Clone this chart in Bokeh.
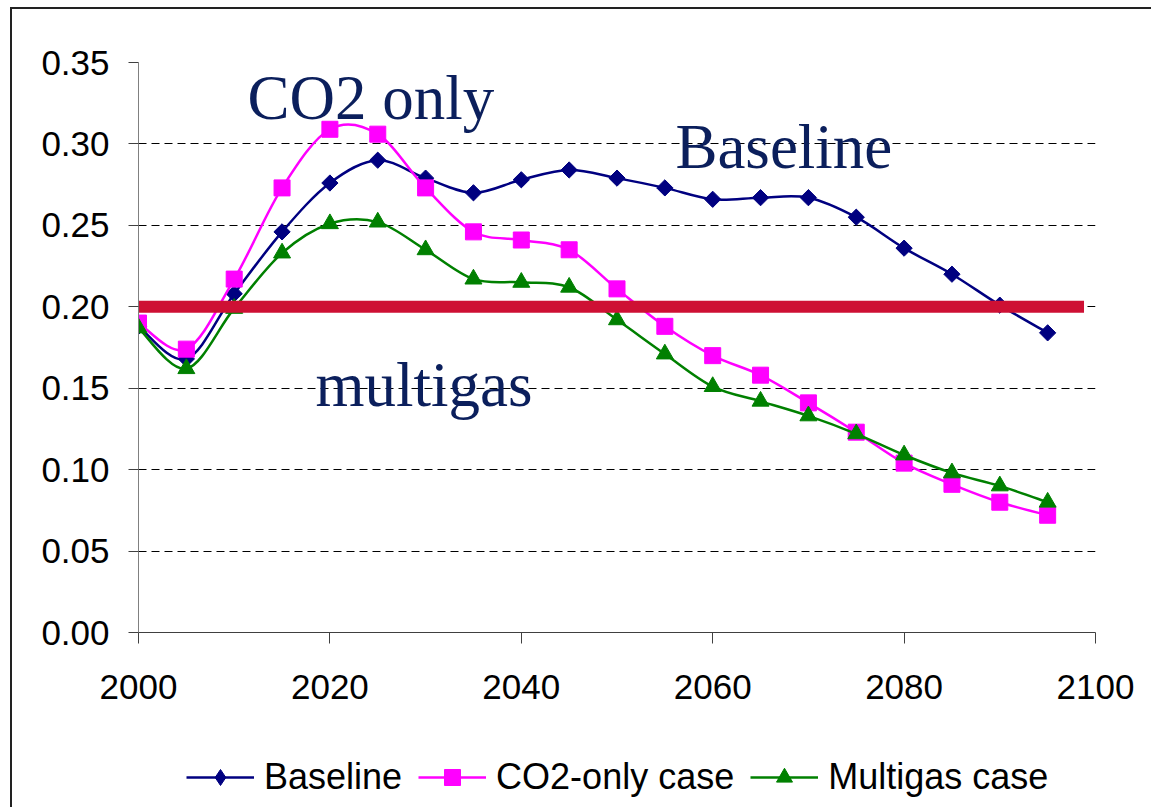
import numpy as np
from bokeh.plotting import figure
from bokeh.layouts import column
from bokeh.models import (ColumnDataSource, FixedTicker, NumeralTickFormatter,
                          Legend, LegendItem, Label, Range1d)
from bokeh.embed import file_html
from bokeh.resources import INLINE

# ---------------- data ----------------
years = [2000, 2005, 2010, 2015, 2020, 2025, 2030, 2035, 2040, 2045,
         2050, 2055, 2060, 2065, 2070, 2075, 2080, 2085, 2090, 2095]
baseline = [0.188, 0.168, 0.208, 0.246, 0.276, 0.290, 0.279, 0.270, 0.278, 0.284,
            0.279, 0.273, 0.266, 0.267, 0.267, 0.255, 0.236, 0.220, 0.201, 0.184]
co2_only = [0.190, 0.174, 0.217, 0.273, 0.309, 0.306, 0.273, 0.246, 0.241, 0.235,
            0.211, 0.188, 0.170, 0.158, 0.141, 0.123, 0.104, 0.091, 0.080, 0.072]
multigas = [0.187, 0.162, 0.199, 0.233, 0.251, 0.252, 0.235, 0.217, 0.215, 0.212,
            0.192, 0.171, 0.151, 0.142, 0.133, 0.122, 0.109, 0.098, 0.090, 0.080]
series_names = ["Baseline", "CO2-only case", "Multigas case"]
x_ticks = [2000, 2020, 2040, 2060, 2080, 2100]
y_ticks = [0.00, 0.05, 0.10, 0.15, 0.20, 0.25, 0.30, 0.35]
target_level = [0.20, 0.20]
target_years = [2000, 2098.8]
annotations = ["CO2 only", "Baseline", "multigas"]

NAVY = "#000080"
MAGENTA = "#FF00FF"
GREEN = "#008000"
RED = "#CE1034"
TEXT_NAVY = "#0B1F5C"
SANS = "Liberation Sans"
SERIF = "Liberation Serif"


def smooth_source(xs, ys):
    """Bezier segments (Excel-like smoothing) built from the data points."""
    x = np.asarray(xs, float)
    y = np.asarray(ys, float)
    xp = np.concatenate([[x[0]], x, [x[-1]]])
    yp = np.concatenate([[y[0]], y, [y[-1]]])
    n = len(x)
    d = dict(x0=[], y0=[], x1=[], y1=[], cx0=[], cy0=[], cx1=[], cy1=[])
    for i in range(n - 1):
        p_prev, p0, p1, p_next = i, i + 1, i + 2, i + 3
        d["x0"].append(xp[p0]); d["y0"].append(yp[p0])
        d["x1"].append(xp[p1]); d["y1"].append(yp[p1])
        d["cx0"].append(xp[p0] + (xp[p1] - xp[p_prev]) / 6.0)
        d["cy0"].append(yp[p0] + (yp[p1] - yp[p_prev]) / 6.0)
        d["cx1"].append(xp[p1] - (xp[p_next] - xp[p0]) / 6.0)
        d["cy1"].append(yp[p1] - (yp[p_next] - yp[p0]) / 6.0)
    return ColumnDataSource(d)


W = 1139
p = figure(width=W, height=713, x_range=(2000, 2100), y_range=(0, 0.35),
           output_backend="svg", toolbar_location=None,
           min_border_left=126, min_border_right=56,
           min_border_top=53, min_border_bottom=90)
p.outline_line_color = None
p.background_fill_color = "white"
p.border_fill_color = "white"

# axes
p.xaxis.ticker = FixedTicker(ticks=x_ticks)
p.yaxis.ticker = FixedTicker(ticks=y_ticks)
p.yaxis.formatter = NumeralTickFormatter(format="0.00")
for ax in (p.xaxis[0], p.yaxis[0]):
    ax.major_label_text_font = SANS
    ax.major_label_text_font_size = "35px"
    ax.major_label_text_color = "black"
    ax.minor_tick_line_color = None
    ax.major_tick_in = 0
p.xaxis.major_tick_out = 11
p.yaxis.major_tick_out = 10
p.xaxis.axis_line_color = "#404040"
p.xaxis.major_tick_line_color = "#404040"
p.yaxis.axis_line_color = "#808080"
p.yaxis.major_tick_line_color = "#404040"
p.xaxis.major_label_standoff = 31
p.yaxis.major_label_standoff = 19

# grid
p.xgrid.grid_line_color = None
p.ygrid.ticker = FixedTicker(ticks=y_ticks[1:])
p.ygrid.grid_line_color = "#000000"
p.ygrid.grid_line_dash = "8 5"
p.ygrid.grid_line_width = 1

# legend strip (its ranges exclude the data, so only the legend shows)
lf = figure(width=W, height=85, x_range=Range1d(0, 1), y_range=Range1d(0, 1),
            output_backend="svg", toolbar_location=None,
            x_axis_type=None, y_axis_type=None,
            min_border_left=0, min_border_right=0, min_border_top=0, min_border_bottom=0)
lf.outline_line_color = None
lf.grid.visible = False
lf.background_fill_color = "white"
lf.border_fill_color = "white"

# series
styles = [
    (baseline, NAVY, "square", 11.5, np.pi / 4, "diamond"),
    (co2_only, MAGENTA, "square", 16, 0.0, "square"),
    (multigas, GREEN, "triangle", 17, 0.0, "triangle"),
]
items = []
for name, (vals, color, marker, size, ang, leg_marker) in zip(series_names, styles):
    src = smooth_source(years, vals)
    p.bezier(x0="x0", y0="y0", x1="x1", y1="y1", cx0="cx0", cy0="cy0",
             cx1="cx1", cy1="cy1", source=src, line_color=color, line_width=2.5)
    p.scatter(x=years, y=vals, marker=marker, size=size, angle=ang,
              fill_color=color, line_color=color)
    c2 = lf.bezier(x0="x0", y0="y0", x1="x1", y1="y1", cx0="cx0", cy0="cy0",
                   cx1="cx1", cy1="cy1", source=src, line_color=color, line_width=2.5)
    s2 = lf.scatter(x=years, y=vals, marker=leg_marker, size=size,
                    fill_color=color, line_color=color)
    items.append(LegendItem(label=name, renderers=[c2, s2]))

# 0.20 reference line
p.line(x=target_years, y=target_level, line_color=RED, line_width=12, line_cap="butt")

# annotations
for txt, (ax_, ay_) in zip(annotations, [(2011.4, 0.3279), (2056.1, 0.2984), (2018.5, 0.1517)]):
    p.add_layout(Label(x=ax_, y=ay_, text=txt, text_font=SERIF, text_font_size="63px",
                       text_color=TEXT_NAVY, text_align="left",
                       text_baseline="alphabetic"))

legend = Legend(items=items, orientation="horizontal", location=(48, 9),
                padding=0, margin=0, spacing=16, label_standoff=10,
                glyph_width=68, glyph_height=40,
                label_text_font=SANS, label_text_font_size="36px",
                label_text_color="black", border_line_color=None,
                background_fill_alpha=0)
lf.add_layout(legend, "center")

layout = column(p, lf, spacing=0)
layout.margin = (7, 0, 0, 10)
layout.styles = {"border-left": "2px solid #222222", "border-top": "2px solid #222222"}

open("out.html", "w").write(file_html(layout, INLINE))
